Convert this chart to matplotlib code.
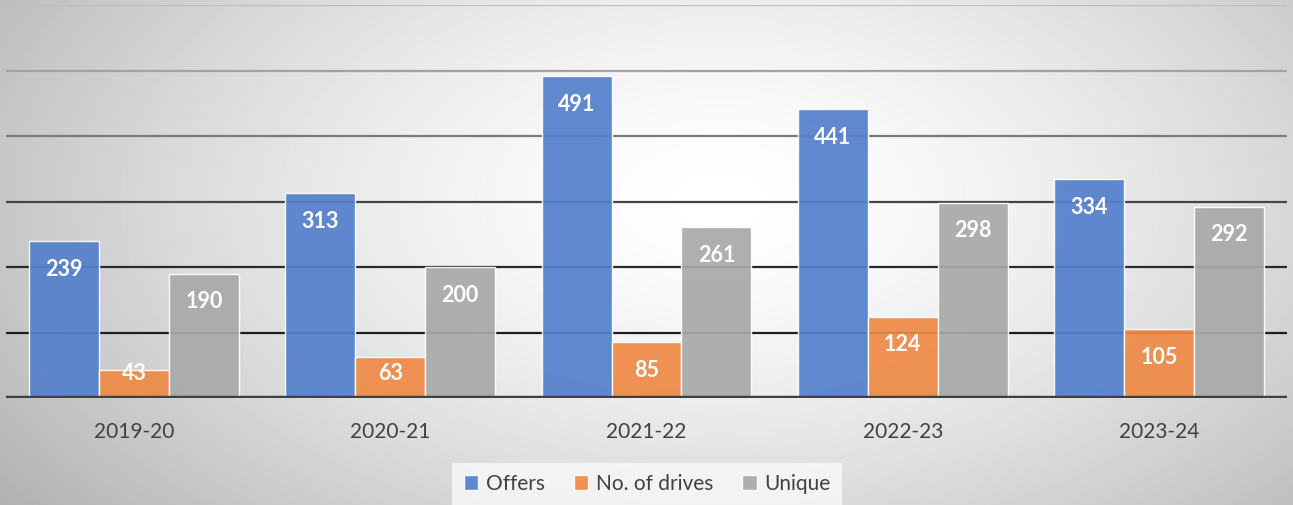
import numpy as np
import matplotlib.pyplot as plt

years = ["2019-20", "2020-21", "2021-22", "2022-23", "2023-24"]
offers = [239, 313, 491, 441, 334]
drives = [43, 63, 85, 124, 105]
unique = [190, 200, 261, 298, 292]
series_names = ["Offers", "No. of drives", "Unique"]

colors = ["#5580cc", "#ee8a47", "#a9a9a9"]
grid_colors = {100: "#1e1e1e", 200: "#2a2a2a", 300: "#454545",
               400: "#7a7a7a", 500: "#a2a2a2", 600: "#bdbdbd"}

plt.rcParams['font.family'] = ['Lato', 'DejaVu Sans']

fig = plt.figure(figsize=(12.93, 5.05), dpi=100)

# radial grey-white background like the office chart area
bg = fig.add_axes([0, 0, 1, 1], zorder=-10)
yy, xx = np.mgrid[0:505, 0:1293]
r = np.sqrt(((xx - 720) / 740.0) ** 2 + ((yy - 200) / 420.0) ** 2)
shade = 1 - 0.23 * np.clip(r, 0, 1.2) ** 1.5
bg.imshow(shade, cmap="gray", vmin=0, vmax=1, aspect="auto",
          extent=[0, 1293, 505, 0])
bg.axis("off")

ax = fig.add_axes([6 / 1293, 1 - 398 / 505, 1281 / 1293, 393 / 505])
ax.patch.set_alpha(0)
ax.set_xlim(-0.5, len(years) - 0.5)
ax.set_ylim(0, 600)

for yv, c in grid_colors.items():
    ax.axhline(yv, color=c, lw=1.6, zorder=1)
ax.axhline(0, color="#404040", lw=3.2, zorder=4)

x = np.arange(len(years))
w = 0.273
for i, (vals, c) in enumerate(zip([offers, drives, unique], colors)):
    xs = x + (i - 1) * w
    ax.bar(xs, vals, width=w, color=c, alpha=0.93, edgecolor=(1, 1, 1, 0.55),
           linewidth=1.0, zorder=3, label=series_names[i])
    for xv, v in zip(xs, vals):
        ypos = max(v - 43, 38)
        ax.text(xv, ypos, str(v), ha="center", va="center", color="white",
                fontsize=15.5, fontweight="bold", zorder=5)

ax.set_xticks(x)
ax.set_xticklabels(years, fontsize=15, color="#404040")
ax.tick_params(axis="x", length=0, pad=17)
ax.set_yticks([])
for s in ax.spines.values():
    s.set_visible(False)

leg = ax.legend(loc="center", bbox_to_anchor=(647 / 1293, 1 - 484 / 505),
                bbox_transform=fig.transFigure, ncol=3, frameon=True,
                fontsize=15, handlelength=0.7, handleheight=0.7,
                handletextpad=0.35, columnspacing=1.4, borderpad=0.55,
                fancybox=False)
leg.get_frame().set_facecolor("#f9f9f9")
leg.get_frame().set_edgecolor("none")
for t in leg.get_texts():
    t.set_color("#404040")

fig.savefig("out.png", dpi=100)
